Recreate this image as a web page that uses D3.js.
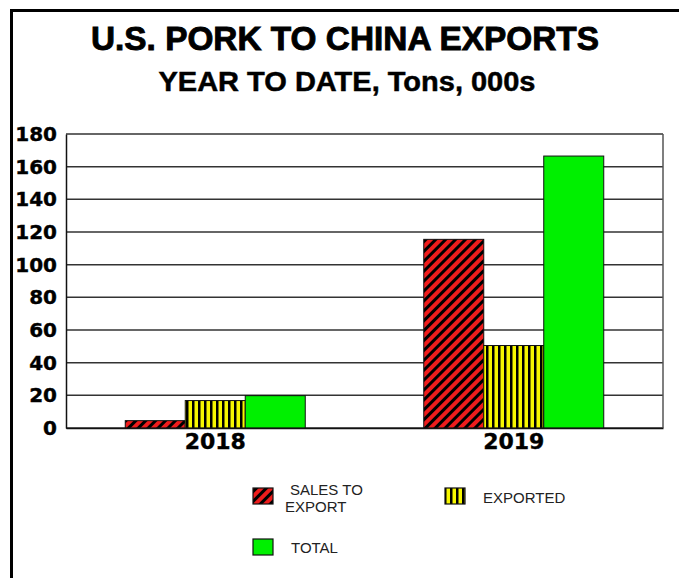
<!DOCTYPE html>
<html><head><meta charset="utf-8">
<script src="https://cdn.jsdelivr.net/npm/d3@7"></script>
<style>body{margin:0;background:#fff}svg{display:block}</style>
</head><body>
<svg id="c" width="679" height="578"></svg>
<script>
const categories = ["2018", "2019"];
const seriesNames = ["SALES TO EXPORT", "EXPORTED", "TOTAL"];
const salesToExport = [4.5, 115.5];
const exported = [16.8, 50.5];
const total = [19.8, 166.5];
const yTicks = [0, 20, 40, 60, 80, 100, 120, 140, 160, 180];

const svg = d3.select("#c");
const W = 679, H = 578;
const m = {l: 66, r: 16, t: 134, b: 150};

// patterns
const defs = svg.append("defs");
const ph = defs.append("pattern").attr("id", "hatch").attr("patternUnits", "userSpaceOnUse")
  .attr("width", 7).attr("height", 7).attr("patternTransform", "rotate(45)");
ph.append("rect").attr("width", 7).attr("height", 7).attr("fill", "#ee1c1c");
ph.append("rect").attr("width", 3).attr("height", 7).attr("fill", "#000");
const pv = defs.append("pattern").attr("id", "vstripe").attr("patternUnits", "userSpaceOnUse")
  .attr("width", 6).attr("height", 6);
pv.append("rect").attr("width", 6).attr("height", 6).attr("fill", "#f7f700");
pv.append("rect").attr("width", 2.5).attr("height", 6).attr("fill", "#000");

const fills = ["url(#hatch)", "url(#vstripe)", "#00f000"];
const series = [salesToExport, exported, total];

// frame
svg.append("rect").attr("x", 11.5).attr("y", 10.5).attr("width", W + 10).attr("height", H + 10)
  .attr("fill", "none").attr("stroke", "#000").attr("stroke-width", 3);

// titles
svg.append("text").attr("x", 345).attr("y", 50).attr("text-anchor", "middle")
  .attr("font-family", "Liberation Sans, Arial, sans-serif").attr("font-weight", "bold")
  .attr("font-size", 33).attr("stroke", "#000").attr("stroke-width", 0.9)
  .attr("textLength", 508).attr("lengthAdjust", "spacingAndGlyphs")
  .text("U.S. PORK TO CHINA EXPORTS");
svg.append("text").attr("x", 347).attr("y", 91).attr("text-anchor", "middle")
  .attr("font-family", "Liberation Sans, Arial, sans-serif").attr("font-weight", "bold")
  .attr("font-size", 28.5).attr("stroke", "#000").attr("stroke-width", 0.5)
  .attr("textLength", 377).attr("lengthAdjust", "spacingAndGlyphs")
  .text("YEAR TO DATE, Tons, 000s");

const x0 = d3.scaleBand().domain(categories).range([m.l, W - m.r]).paddingInner(0.397).paddingOuter(0.1985);
const x1 = d3.scaleBand().domain(d3.range(series.length)).range([0, x0.bandwidth()]);
const y = d3.scaleLinear().domain([0, 180]).range([H - m.b, m.t]);

// grid
svg.append("g").selectAll("line").data(yTicks).join("line")
  .attr("x1", m.l).attr("x2", W - m.r).attr("y1", d => y(d)).attr("y2", d => y(d))
  .attr("stroke", "#333").attr("stroke-width", 1.5);
// plot border
svg.append("line").attr("x1", W - m.r).attr("x2", W - m.r).attr("y1", y(180)).attr("y2", y(0))
  .attr("stroke", "#555").attr("stroke-width", 1.5);

// bars
const g = svg.append("g");
categories.forEach((c, i) => {
  series.forEach((s, k) => {
    g.append("rect")
      .attr("x", x0(c) + x1(k)).attr("width", x1.bandwidth())
      .attr("y", y(s[i])).attr("height", y(0) - y(s[i]))
      .attr("fill", fills[k]).attr("stroke", "#111").attr("stroke-width", 1);
  });
});

// axes
const yAxis = d3.axisLeft(y).tickValues(yTicks).tickSize(0).tickPadding(9);
const ya = svg.append("g").attr("transform", `translate(${m.l},0)`).call(yAxis);
ya.select(".domain").attr("stroke", "#111").attr("stroke-width", 1.5);
ya.selectAll("text").attr("font-family", "DejaVu Sans, sans-serif").attr("font-weight", "bold")
  .attr("font-size", 20).attr("fill", "#000").attr("stroke", "#000").attr("stroke-width", 0.4);

const xAxis = d3.axisBottom(x0).tickSize(0).tickPadding(5);
const xa = svg.append("g").attr("transform", `translate(0,${y(0)})`).call(xAxis);
xa.select(".domain").attr("stroke", "#111").attr("stroke-width", 1.5);
xa.selectAll("text").attr("font-family", "DejaVu Sans, sans-serif").attr("font-weight", "bold")
  .attr("font-size", 22).attr("fill", "#000").attr("stroke", "#000").attr("stroke-width", 0.4);

// legend
const legend = [
  {k: 0, x: 253, y: 488, lines: [["SALES TO", 290, 495], ["EXPORT", 285, 512]]},
  {k: 1, x: 445, y: 488, lines: [["EXPORTED", 483, 503]]},
  {k: 2, x: 253, y: 539, lines: [["TOTAL", 291, 553]]}
];
const lg = svg.append("g");
legend.forEach(L => {
  lg.append("rect").attr("x", L.x).attr("y", L.y).attr("width", 20).attr("height", 16)
    .attr("fill", fills[L.k]).attr("stroke", "#111").attr("stroke-width", 1.2);
  L.lines.forEach(t => lg.append("text").attr("x", t[1]).attr("y", t[2])
    .attr("font-family", "Liberation Sans, Arial, sans-serif").attr("font-size", 15)
    .attr("fill", "#222").text(t[0]));
});
</script>
</body></html>
